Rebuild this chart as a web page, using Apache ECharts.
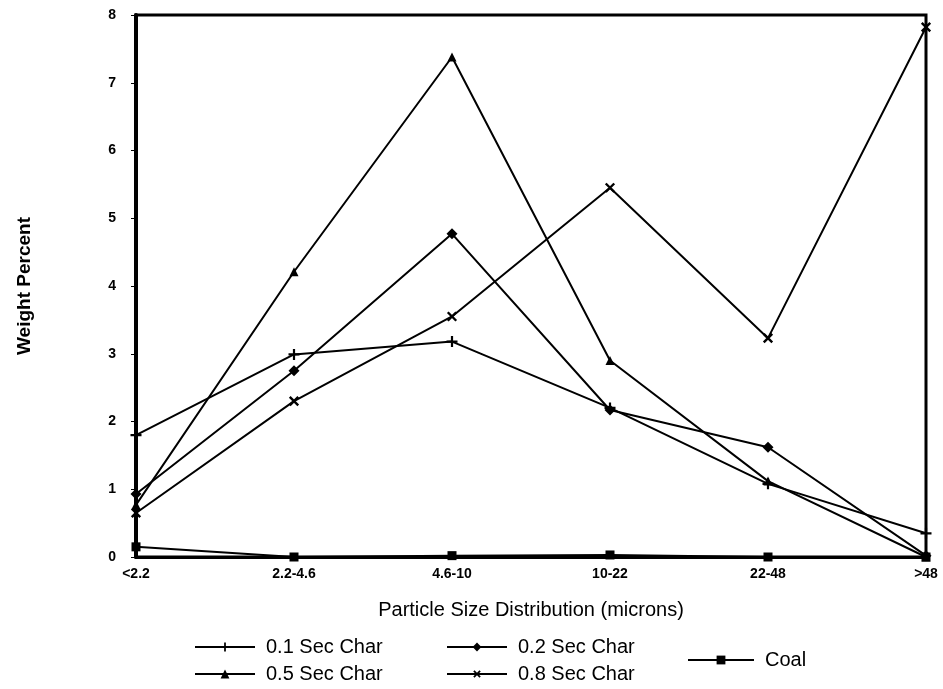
<!DOCTYPE html>
<html>
<head>
<meta charset="utf-8">
<script src="https://cdn.jsdelivr.net/npm/echarts@6/dist/echarts.min.js"></script>
<style>
  html, body { margin: 0; padding: 0; background: #fff; }
  #chart { width: 943px; height: 689px; }
</style>
</head>
<body>
<div id="chart"></div>
<script>
// Particle size bins (microns)
const categories = ['<2.2', '2.2-4.6', '4.6-10', '10-22', '22-48', '>48'];

// Weight percent per size bin
const char01 = [1.80, 2.99, 3.18, 2.20, 1.08, 0.35];
const char02 = [0.93, 2.75, 4.77, 2.17, 1.62, 0.02];
const char05 = [0.77, 4.21, 7.38, 2.90, 1.12, 0.00];
const char08 = [0.65, 2.30, 3.55, 5.45, 3.23, 7.82];
const coal   = [0.15, 0.00, 0.02, 0.03, 0.00, 0.00];

const yTicks = { min: 0, max: 8, interval: 1 };

const FONT = '"Liberation Sans", Arial, sans-serif';
const plusPath = 'path://M4,0h2v10h-2z M0,4h10v2h-10z';

function lineSeries(name, data, symbol, size, rotate) {
  return {
    name: name,
    type: 'line',
    data: data,
    symbol: symbol,
    symbolSize: size,
    symbolRotate: rotate || 0,
    showSymbol: true,
    animation: false,
    lineStyle: { color: '#000', width: 2 },
    itemStyle: { color: '#000', borderColor: '#000', borderWidth: 0 },
    z: 3
  };
}

const legendText = { color: '#000', fontFamily: FONT, fontSize: 20, padding: [0, 0, 0, 6] };
const legendBase = {
  orient: 'vertical', padding: 0, height: 60,
  itemWidth: 60, itemHeight: 11, itemGap: 7,
  textStyle: legendText, selectedMode: false
};

const chart = echarts.init(document.getElementById('chart'), null, { renderer: 'canvas' });
chart.setOption({
  backgroundColor: '#fff',
  animation: false,
  grid: {
    left: 136, right: 17, top: 15, bottom: 132,
    show: true, borderColor: '#000', borderWidth: 3, backgroundColor: 'transparent'
  },
  legend: [
    Object.assign({}, legendBase, { data: ['0.1 Sec Char', '0.5 Sec Char'], left: 194, top: 637 }),
    Object.assign({}, legendBase, { data: ['0.2 Sec Char', '0.8 Sec Char'], left: 446, top: 637 }),
    Object.assign({}, legendBase, { data: ['Coal'], left: 687, top: 650, itemWidth: 66 })
  ],
  xAxis: {
    type: 'category',
    data: categories,
    boundaryGap: false,
    name: 'Particle Size Distribution (microns)',
    nameLocation: 'middle',
    nameGap: 43,
    nameTextStyle: { color: '#000', fontFamily: FONT, fontSize: 20 },
    axisLine: { show: true, lineStyle: { color: '#000', width: 3 } },
    axisTick: { show: false },
    axisLabel: { color: '#000', fontFamily: FONT, fontWeight: 'bold', fontSize: 14, margin: 10 },
    splitLine: { show: false }
  },
  yAxis: {
    type: 'value',
    min: yTicks.min, max: yTicks.max, interval: yTicks.interval,
    name: 'Weight Percent',
    nameLocation: 'middle',
    nameRotate: 90,
    nameGap: 102,
    nameTextStyle: { color: '#000', fontFamily: FONT, fontWeight: 'bold', fontSize: 19 },
    axisLine: { show: true, lineStyle: { color: '#000', width: 4 } },
    axisTick: { show: true, inside: false, length: 5, lineStyle: { color: '#000', width: 1 } },
    axisLabel: { color: '#000', fontFamily: FONT, fontWeight: 'bold', fontSize: 14, margin: 20 },
    splitLine: { show: false }
  },
  series: [
    lineSeries('0.1 Sec Char', char01, plusPath, 11, 0),
    lineSeries('0.2 Sec Char', char02, 'diamond', 11, 0),
    lineSeries('0.5 Sec Char', char05, 'triangle', 9, 0),
    lineSeries('0.8 Sec Char', char08, plusPath, 12, 45),
    lineSeries('Coal', coal, 'rect', 9, 0)
  ]
});
</script>
</body>
</html>
